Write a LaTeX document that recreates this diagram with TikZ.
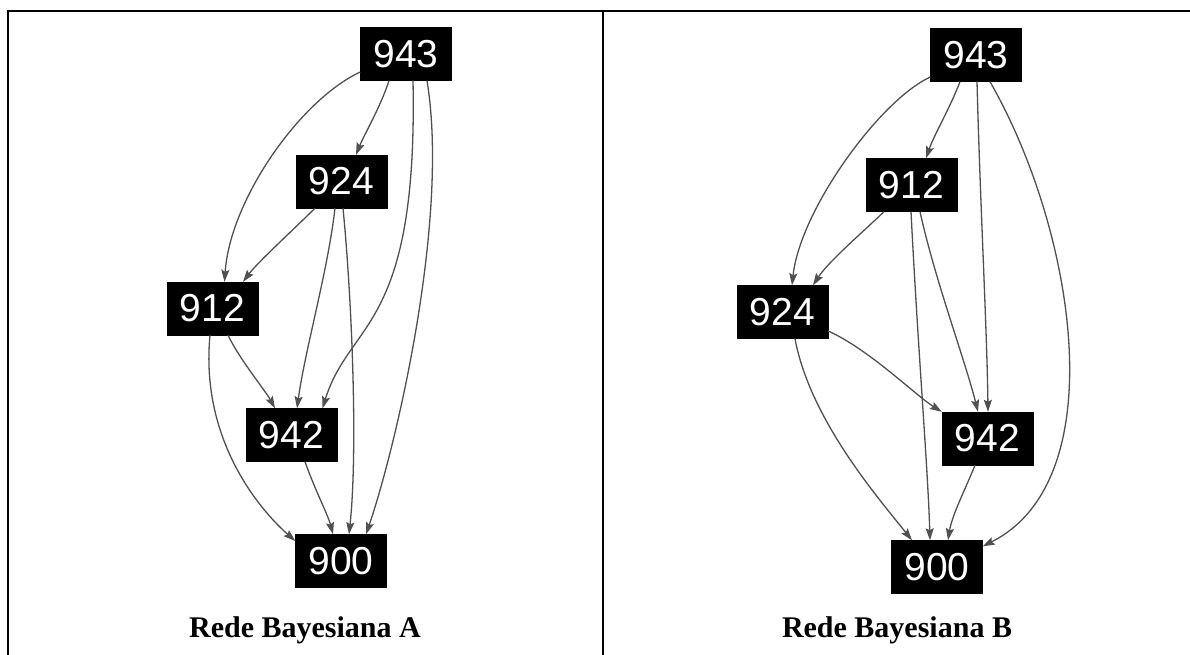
\documentclass[tikz,border=0pt]{standalone}
\usepackage{fontspec}
\setmainfont{Liberation Serif}
\newfontfamily\nodefont{Liberation Sans}
\usetikzlibrary{arrows.meta}
\definecolor{edgegray}{HTML}{505050}
\tikzset{
  bn/.style={fill=black, text=white, draw=black, minimum width=91pt, minimum height=53pt, inner sep=0pt, font=\nodefont\fontsize{39}{42}\selectfont},
  edge/.style={draw=edgegray, line width=1.3pt, -{Stealth[length=12pt,width=8pt,inset=2pt]}},
  frame/.style={line width=2.2pt, black},
  ttl/.style={font=\bfseries\fontsize{30}{34}\selectfont}
}
\begin{document}
\begin{tikzpicture}[x=1pt,y=-1pt]
\useasboundingbox (0,0) rectangle (1190,655);
% frame
\draw[frame] (7,11) coordinate (tl) -- (1190,11) coordinate (tr);
\draw[frame] (8,11) coordinate (lt) -- (8,655) coordinate (lb);
\draw[frame] (603,11) coordinate (mt) -- (603,655) coordinate (mb);
% ---------- Network A ----------
\node[bn] (a943) at (406,54) {943};
\node[bn] (a924) at (341.5,181.5) {924};
\node[bn] (a912) at (212.5,308.5) {912};
\node[bn] (a942) at (291.5,435) {942};
\node[bn] (a900) at (341,561) {900};
\node[ttl] (ta) at (305,630) {Rede Bayesiana A};
\draw[edge] ([xshift=-17pt]a943.south) .. controls (380,108) and (364,135) .. ([xshift=14.5pt]a924.north);
\draw[edge] ([yshift=-18pt]a943.west) .. controls (300,100) and (230,200) .. ([xshift=12pt]a912.north);
\draw[edge] ([xshift=7pt]a943.south) .. controls (418,330) and (350,320) .. ([xshift=31pt]a942.north);
\draw[edge] ([xshift=21pt]a943.south) .. controls (450,220) and (395,450) .. ([xshift=25pt]a900.north);
\draw[edge] ([xshift=-26.5pt]a924.south) .. controls (293,230) and (258,262) .. ([xshift=30.5pt]a912.north);
\draw[edge] ([xshift=-6.5pt]a924.south) .. controls (328,270) and (305,350) .. ([xshift=5.5pt]a942.north);
\draw[edge] ([xshift=1.5pt]a924.south) .. controls (352,300) and (358,450) .. ([xshift=8pt]a900.north);
\draw[edge] ([xshift=15.5pt]a912.south) .. controls (240,360) and (265,390) .. ([xshift=-16.5pt]a942.north);
\draw[edge] ([xshift=-2.5pt]a912.south) .. controls (200,440) and (260,510) .. ([yshift=20pt]a900.west);
\draw[edge] ([xshift=13.5pt]a942.south) .. controls (315,490) and (328,515) .. ([xshift=-8pt]a900.north);
% ---------- Network B ----------
\node[bn] (b943) at (976,55) {943};
\node[bn] (b912) at (911.5,185) {912};
\node[bn] (b924) at (782.5,312) {924};
\node[bn] (b942) at (987.5,438.5) {942};
\node[bn] (b900) at (937,567) {900};
\node[ttl] (tb) at (897,630) {Rede Bayesiana B};
\draw[edge] ([xshift=-16pt]b943.south) .. controls (950,108) and (934,135) .. ([xshift=14.5pt]b912.north);
\draw[edge] ([yshift=-22pt]b943.west) .. controls (880,100) and (800,210) .. ([xshift=9.5pt]b924.north);
\draw[edge] ([xshift=1pt]b943.south) .. controls (980,200) and (987,330) .. ([xshift=0.5pt]b942.north);
\draw[edge] ([xshift=14pt]b943.south) .. controls (1075,230) and (1115,480) .. ([yshift=-6pt]b900.north east);
\draw[edge] ([xshift=-27.5pt]b912.south) .. controls (865,230) and (828,262) .. ([xshift=30.5pt]b924.north);
\draw[edge] ([xshift=8.5pt]b912.south) .. controls (935,280) and (965,360) .. ([xshift=-9.5pt]b942.north);
\draw[edge] ([xshift=-0.5pt]b912.south) .. controls (918,350) and (928,470) .. ([xshift=-7pt]b900.north);
\draw[edge] ([yshift=-19pt]b924.east) .. controls (870,350) and (915,395) .. (b942.north west);
\draw[edge] ([xshift=12.5pt]b924.south) .. controls (810,420) and (880,500) .. ([xshift=-25pt]b900.north);
\draw[edge] ([xshift=-12.5pt]b942.south) .. controls (965,490) and (952,515) .. ([xshift=11pt]b900.north);
\end{tikzpicture}
\end{document}
